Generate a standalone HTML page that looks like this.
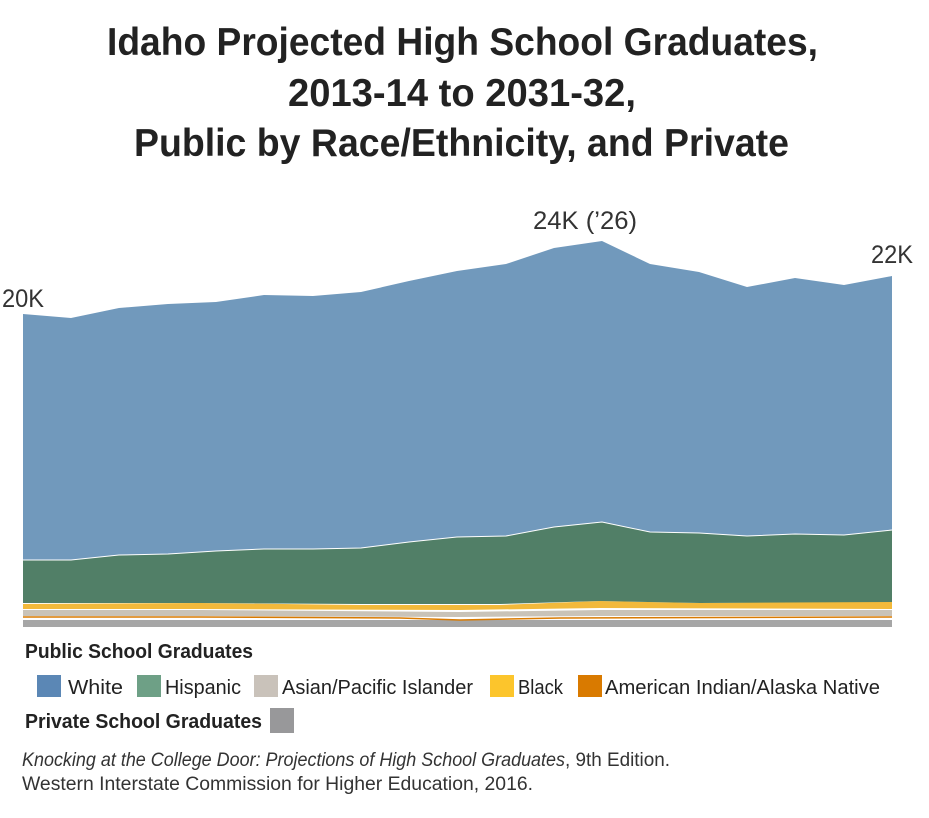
<!DOCTYPE html>
<html><head><meta charset="utf-8"><style>
html,body{margin:0;padding:0;background:#fff;}
svg{display:block;}
text{font-family:"Liberation Sans Narrow","Liberation Sans",sans-serif;}
</style></head><body>
<svg width="929" height="818" viewBox="0 0 929 818" xmlns="http://www.w3.org/2000/svg">
<g fill="#222" font-size="39" font-weight="bold" text-anchor="start">
<text x="107" y="55" textLength="711" lengthAdjust="spacingAndGlyphs">Idaho Projected High School Graduates,</text>
<text x="288" y="106" textLength="348" lengthAdjust="spacingAndGlyphs">2013-14 to 2031-32,</text>
<text x="134" y="156" textLength="655" lengthAdjust="spacingAndGlyphs">Public by Race/Ethnicity, and Private</text>
</g>
<g fill="#333" font-size="25">
<text x="2" y="307" textLength="42" lengthAdjust="spacingAndGlyphs">20K</text>
<text x="533" y="229" textLength="104" lengthAdjust="spacingAndGlyphs">24K (’26)</text>
<text x="871" y="263" textLength="42" lengthAdjust="spacingAndGlyphs">22K</text>
</g>
<polygon fill="#a6a6a6" points="23,620 892,620 892,627 23,627"/>
<polyline fill="none" stroke="#d97a00" stroke-width="1.5" points="23,617 200,617 400,618 460,620 560,618 892,617"/>
<polygon fill="#c9c3b8" points="23,610 200,610 460,612 600,610 892,610 892,616 600,616 460,617 200,616 23,616"/>
<polygon fill="#f2b93b" points="23,604 200,603 360,605 500,605 600,601 700,603 892,601 892,609 600,608 460,610 200,609 23,609"/>
<polygon fill="#517f67" points="23,560 71,560 119,555 168,554 216,551 264,549 313,549 361,548 409,542 457,537 506,536 554,527 602,522 650,532 699,533 747,536 795,534 844,535 892,530 892,602 700,603 600,601 500,604 360,604 200,603 23,603"/>
<polygon fill="#7199bc" points="23,314 71,318 119,308 168,304 216,302 264,295 313,296 361,292 409,281 457,271 506,264 554,248 602,241 650,264 699,272 747,287 795,278 844,285 892,276 892,530 844,535 795,534 747,536 699,533 650,532 602,522 554,527 506,536 457,537 409,542 361,548 313,549 264,549 216,551 168,554 119,555 71,560 23,560"/>
<polyline fill="none" stroke="#fff" stroke-width="1" points="23,560 71,560 119,555 168,554 216,551 264,549 313,549 361,548 409,542 457,537 506,536 554,527 602,522 650,532 699,533 747,536 795,534 844,535 892,530"/>
<text x="25" y="658" font-size="20" font-weight="bold" fill="#222" textLength="228" lengthAdjust="spacingAndGlyphs">Public School Graduates</text>
<g font-size="20" fill="#222">
<rect x="37" y="675" width="24" height="22" fill="#5b87b5"/>
<text x="68" y="694" textLength="55" lengthAdjust="spacingAndGlyphs">White</text>
<rect x="137" y="675" width="24" height="22" fill="#6ea086"/>
<text x="165" y="694" textLength="76" lengthAdjust="spacingAndGlyphs">Hispanic</text>
<rect x="254" y="675" width="24" height="22" fill="#c9c2ba"/>
<text x="282" y="694" textLength="191" lengthAdjust="spacingAndGlyphs">Asian/Pacific Islander</text>
<rect x="490" y="675" width="24" height="22" fill="#fcc52c"/>
<text x="518" y="694" textLength="45" lengthAdjust="spacingAndGlyphs">Black</text>
<rect x="578" y="675" width="24" height="22" fill="#d97a00"/>
<text x="605" y="694" textLength="275" lengthAdjust="spacingAndGlyphs">American Indian/Alaska Native</text>
</g>
<text x="25" y="728" font-size="20" font-weight="bold" fill="#222" textLength="237" lengthAdjust="spacingAndGlyphs">Private School Graduates</text>
<rect x="270" y="708" width="24" height="25" fill="#98989a"/>
<g font-size="19" fill="#333">
<text x="22" y="766"><tspan font-style="italic" textLength="543" lengthAdjust="spacingAndGlyphs">Knocking at the College Door: Projections of High School Graduates</tspan><tspan textLength="105" lengthAdjust="spacingAndGlyphs">, 9th Edition.</tspan></text>
<text x="22" y="790" textLength="511" lengthAdjust="spacingAndGlyphs">Western Interstate Commission for Higher Education, 2016.</text>
</g>
</svg>
</body></html>
